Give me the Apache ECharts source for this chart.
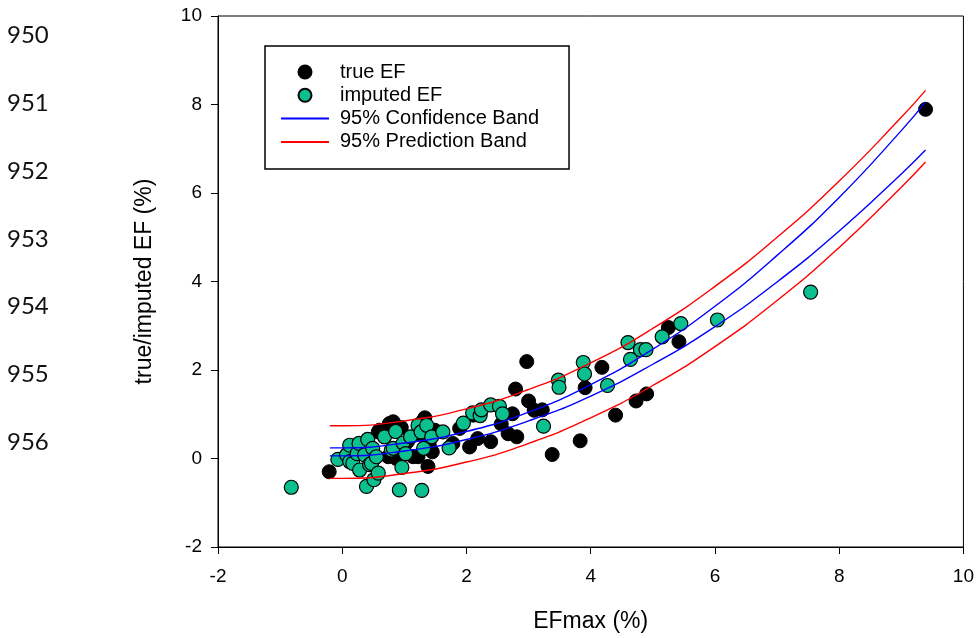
<!DOCTYPE html>
<html>
<head>
<meta charset="utf-8">
<title>true / imputed EF</title>
<script src="https://cdn.jsdelivr.net/npm/echarts@6/dist/echarts.min.js"></script>
<style>
    html, body { margin: 0; padding: 0; background: #fff; }
    #chart { width: 977px; height: 638px; }
</style>
</head>
<body>
<div id="chart"></div>
<script>
// 行号（原稿左侧）
var lineNumbers = ['950', '951', '952', '953', '954', '955', '956'];

// 坐标轴刻度
var xTicks = [-2, 0, 2, 4, 6, 8, 10];
var yTicks = [-2, 0, 2, 4, 6, 8, 10];

// true EF 点（黑色）
var trueX = [-0.21, 0.52, 0.58, 0.60, 0.66, 0.74, 0.76, 0.82, 0.87, 0.95,
    1.05, 1.14, 1.22, 1.25, 1.30, 1.33, 1.38, 1.40, 1.45, 1.49,
    1.78, 1.89, 2.05, 2.11, 2.18, 2.39, 2.56, 2.67, 2.74, 2.79,
    2.81, 2.97, 3.00, 3.09, 3.22, 3.38, 3.83, 3.91, 4.18, 4.40,
    4.73, 4.90, 5.25, 5.42, 9.39];
var trueY = [-0.30, 0.00, 0.60, 0.64, 0.56, 0.04, 0.79, 0.83, 0.00, 0.70,
    0.38, 0.04, 0.04, 0.55, 0.85, 0.92, -0.18, 0.30, 0.15, 0.64,
    0.34, 0.68, 0.26, 0.98, 0.45, 0.38, 0.78, 0.56, 1.01, 1.57,
    0.49, 2.19, 1.30, 1.09, 1.10, 0.09, 0.40, 1.60, 2.06, 0.98,
    1.30, 1.46, 2.96, 2.64, 7.89];

// imputed EF 点（绿色）
var impX = [-0.82, -0.07, 0.07, 0.12, 0.12, 0.17, 0.24, 0.27, 0.28, 0.36,
    0.39, 0.41, 0.44, 0.47, 0.49, 0.51, 0.55, 0.58, 0.68, 0.79,
    0.82, 0.86, 0.92, 0.96, 0.98, 1.02, 1.10, 1.22, 1.27, 1.28,
    1.31, 1.36, 1.44, 1.62, 1.72, 1.95, 2.10, 2.22, 2.24, 2.39,
    2.53, 2.58, 3.24, 3.48, 3.49, 3.88, 3.90, 4.27, 4.60, 4.64,
    4.80, 4.89, 5.15, 5.45, 6.04, 7.54];
var impY = [-0.65, -0.02, 0.08, 0.30, -0.07, -0.11, 0.11, 0.34, -0.26, 0.08,
    -0.63, 0.43, -0.14, -0.11, 0.23, -0.48, 0.04, -0.33, 0.49, 0.19,
    0.23, 0.61, -0.71, -0.20, 0.35, 0.11, 0.49, 0.75, 0.60, -0.72,
    0.23, 0.75, 0.49, 0.60, 0.24, 0.80, 1.03, 0.97, 1.10, 1.21,
    1.18, 1.01, 0.73, 1.77, 1.61, 2.17, 1.91, 1.65, 2.62, 2.24,
    2.46, 2.46, 2.75, 3.05, 3.13, 3.76];

// 置信带 / 预测带
var bandX = [-0.2, 0, 1, 2, 3, 4, 5, 6, 7, 8, 9, 9.39];
var confUpper = [0.24, 0.24, 0.35, 0.61, 1.05, 1.67, 2.47, 3.44, 4.59, 5.90, 7.41, 8.06];
var confLower = [0.06, 0.06, 0.17, 0.43, 0.85, 1.41, 2.13, 2.98, 3.99, 5.14, 6.43, 6.97];
var predUpper = [0.74, 0.74, 0.85, 1.12, 1.56, 2.16, 2.94, 3.89, 5.00, 6.27, 7.71, 8.32];
var predLower = [-0.45, -0.45, -0.34, -0.08, 0.34, 0.92, 1.65, 2.53, 3.57, 4.77, 6.13, 6.70];

var GREEN = '#0cbf8e';
var NO_SYMBOL = { color: 'rgba(0,0,0,0)', borderColor: 'rgba(0,0,0,0)', borderWidth: 0 };

function pairs(xs, ys) {
    var out = [];
    for (var i = 0; i < xs.length; i++) {
        out.push([xs[i], ys[i]]);
    }
    return out;
}

// 左侧行号用 graphic 文本
function lineNumberGraphics() {
    var tops = [37, 105, 173, 241, 308, 376, 444];
    var items = [];
    for (var i = 0; i < lineNumbers.length; i++) {
        items.push({
            type: 'text',
            left: 7,
            top: tops[i] - 14,
            style: {
                text: lineNumbers[i],
                fill: '#111',
                font: '24px Lato'
            }
        });
    }
    return items;
}

var axisFont = 'Liberation Sans';

function bandSeries(name, ys, color) {
    return {
        name: name,
        type: 'line',
        data: pairs(bandX, ys),
        smooth: true,
        symbol: 'none',
        z: 5,
        lineStyle: { color: color, width: 1.4 },
        itemStyle: { color: color }
    };
}

var chart = echarts.init(document.getElementById('chart'));
var option = {
    animation: false,
    backgroundColor: '#fff',
    graphic: lineNumberGraphics(),
    grid: {
        left: 218,
        right: 12,
        top: 16,
        bottom: 87,
        show: true,
        borderColor: '#000',
        borderWidth: 1
    },
    legend: {
        orient: 'vertical',
        left: 265,
        top: 46,
        padding: [16, 30, 17, 15],
        borderColor: '#000',
        borderWidth: 1.5,
        itemWidth: 48,
        itemHeight: 13,
        itemGap: 3.3,
        textStyle: {
            color: '#000',
            fontFamily: axisFont,
            fontSize: 20,
            lineHeight: 20,
            padding: [0, 0, 0, 6]
        },
        data: [
            { name: 'true EF' },
            { name: 'imputed EF' },
            { name: '95% Confidence Band', itemStyle: NO_SYMBOL },
            { name: '95% Prediction Band', itemStyle: NO_SYMBOL }
        ]
    },
    xAxis: {
        type: 'value',
        min: xTicks[0],
        max: xTicks[xTicks.length - 1],
        interval: 2,
        name: 'EFmax (%)',
        nameLocation: 'middle',
        nameGap: 63,
        nameTextStyle: { color: '#000', fontFamily: axisFont, fontSize: 23 },
        axisLine: { show: true, onZero: false, lineStyle: { color: '#000', width: 1 } },
        axisTick: { show: true, length: 7, lineStyle: { color: '#000' } },
        axisLabel: { color: '#000', fontFamily: axisFont, fontSize: 19, margin: 20 },
        splitLine: { show: false }
    },
    yAxis: {
        type: 'value',
        min: yTicks[0],
        max: yTicks[yTicks.length - 1],
        interval: 2,
        name: 'true/imputed EF (%)',
        nameLocation: 'middle',
        nameGap: 62,
        nameTextStyle: { color: '#000', fontFamily: axisFont, fontSize: 23 },
        axisLine: { show: true, onZero: false, lineStyle: { color: '#000', width: 1 } },
        axisTick: { show: true, length: 7, lineStyle: { color: '#000' } },
        axisLabel: { color: '#000', fontFamily: axisFont, fontSize: 19, margin: 16 },
        splitLine: { show: false }
    },
    series: [
        {
            name: 'true EF',
            type: 'scatter',
            data: pairs(trueX, trueY),
            symbol: 'circle',
            symbolSize: 14,
            z: 2,
            itemStyle: { color: '#000', borderColor: '#000', borderWidth: 1, opacity: 1 }
        },
        {
            name: 'imputed EF',
            type: 'scatter',
            data: pairs(impX, impY),
            symbol: 'circle',
            symbolSize: 14,
            z: 3,
            itemStyle: { color: GREEN, borderColor: '#000', borderWidth: 1.2, opacity: 1 }
        },
        bandSeries('95% Confidence Band', confUpper, '#0000ff'),
        bandSeries('95% Confidence Band', confLower, '#0000ff'),
        bandSeries('95% Prediction Band', predUpper, '#ff0000'),
        bandSeries('95% Prediction Band', predLower, '#ff0000')
    ]
};
chart.setOption(option);
</script>
</body>
</html>
